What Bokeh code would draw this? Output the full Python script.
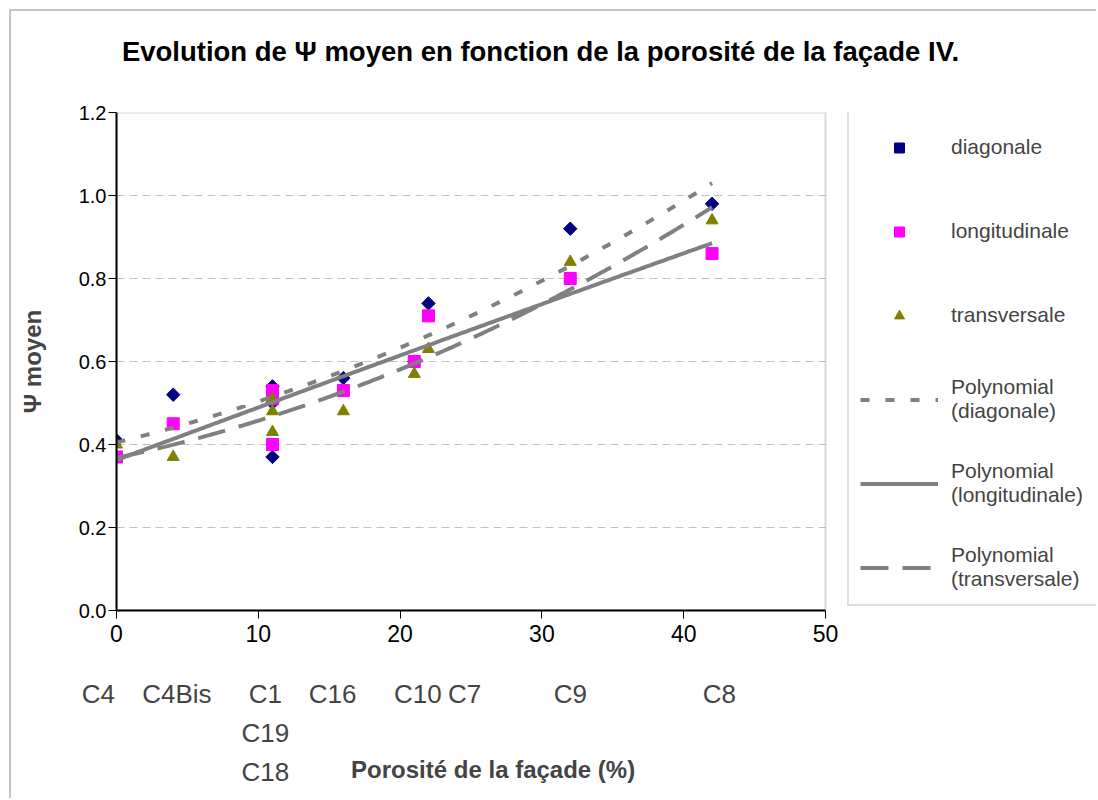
import numpy as np
from bokeh.plotting import figure
from bokeh.models import (Legend, LegendItem, Range1d, FixedTicker, LinearAxis,
                          PrintfTickFormatter, BoxAnnotation)
from bokeh.embed import file_html
from bokeh.resources import INLINE

# ---------------- data ----------------
porosity = [0, 4, 11, 11, 11, 16, 21, 22, 32, 42]
cases = ["C4", "C4Bis", "C1", "C19", "C18", "C16", "C10", "C7", "C9", "C8"]
diagonale = [0.41, 0.52, 0.54, 0.50, 0.37, 0.56, 0.60, 0.74, 0.92, 0.98]
longitudinale = [0.37, 0.45, 0.53, 0.51, 0.40, 0.53, 0.60, 0.71, 0.80, 0.86]
transversale = [0.40, 0.37, 0.48, 0.51, 0.43, 0.48, 0.57, 0.63, 0.84, 0.94]
x_ticks = [0, 10, 20, 30, 40, 50]
y_ticks = [0.0, 0.2, 0.4, 0.6, 0.8, 1.0, 1.2]
X_MAX, Y_MAX = 50, 1.2

title_text = "Evolution de Ψ moyen en fonction de la porosité de la façade IV."
x_title = "Porosité de la façade (%)"
y_title = "Ψ moyen"
series_names = ["diagonale", "longitudinale", "transversale"]

# ---------------- styles / layout ----------------
FONT = "Liberation Sans"
GRAY = "#808080"
NBSP = "\u00a0"
CASE_SIZE = 26
W, H = 1087, 789
LEFT, TOP, BOTTOM, RIGHT = 105, 101, 190, 2
PLOT_PX = 709                      # pixel width of the 0..50 plot area
FRAME_PX = W - LEFT - RIGHT        # frame also hosts the legend on its right
PX_PER_UNIT = PLOT_PX / X_MAX
x_end = FRAME_PX / PX_PER_UNIT
TITLE_CENTER_PX = 424              # title centre, px right of the y axis
XTITLE_SHIFT_PX = -115             # x-axis title shift from frame centre

case_dx = {"C4": -19, "C4Bis": 3, "C1": -7, "C19": -7, "C18": -7, "C16": -10,
           "C10": 4, "C7": 37, "C9": 0, "C8": 6}


def nudged(name, dx, size):
    n = int(round(abs(dx) * 2 / (0.278 * size)))
    return NBSP * n + name if dx > 0 else name + NBSP * n


p = figure(width=W, height=H, output_backend="svg", toolbar_location=None,
           x_range=Range1d(0, x_end), y_range=Range1d(0, Y_MAX),
           min_border_left=LEFT, min_border_right=RIGHT,
           min_border_top=TOP, min_border_bottom=BOTTOM)
p.margin = (9, 0, 0, 9)
p.styles = {"border-top": "2px solid #c4c4c4", "border-left": "2px solid #c4c4c4"}
p.outline_line_color = None
p.background_fill_color = "white"
p.border_fill_color = "white"

main_x = p.xaxis[0]
main_y = p.yaxis[0]

# axes
main_x.ticker = FixedTicker(ticks=x_ticks)
main_x.bounds = (0, X_MAX)
main_y.ticker = FixedTicker(ticks=y_ticks)
main_y.formatter = PrintfTickFormatter(format="%.1f")
for ax in (main_x, main_y):
    ax.axis_line_color = "black"
    ax.axis_line_width = 2
    ax.major_tick_line_color = "black"
    ax.major_tick_line_width = 1
    ax.major_tick_out = 8
    ax.major_tick_in = 0
    ax.minor_tick_line_color = None
    ax.major_label_text_font = FONT
    ax.major_label_text_color = "black"
main_x.major_label_text_font_size = "23px"
main_y.major_label_text_font_size = "20px"
main_x.major_label_standoff = 6
main_y.major_label_standoff = 2
main_y.axis_label = y_title
main_y.axis_label_text_font = FONT
main_y.axis_label_text_font_size = "24px"
main_y.axis_label_text_font_style = "bold"
main_y.axis_label_standoff = 30

# title (as a single labelled tick on an axis above the plot)
title_x = TITLE_CENTER_PX / PX_PER_UNIT
title_axis = LinearAxis(ticker=FixedTicker(ticks=[title_x]),
                        major_label_overrides={title_x: title_text})
title_axis.axis_line_color = None
title_axis.major_tick_line_color = None
title_axis.minor_tick_line_color = None
title_axis.major_tick_out = 0
title_axis.major_tick_in = 0
title_axis.major_label_standoff = 46
title_axis.major_label_text_font = FONT
title_axis.major_label_text_font_size = "27.5px"
title_axis.major_label_text_font_style = "bold"
title_axis.major_label_text_color = "black"
p.add_layout(title_axis, "above")

# case-name axis under the porosity axis
groups = {}
for name, xv in zip(cases, porosity):
    groups.setdefault(xv, []).append(nudged(name, case_dx[name], CASE_SIZE))
case_axis = LinearAxis(ticker=FixedTicker(ticks=sorted(groups)), bounds=(0, X_MAX),
                       major_label_overrides={k: "\n".join(v) for k, v in groups.items()})
case_axis.axis_line_color = None
case_axis.major_tick_line_color = None
case_axis.minor_tick_line_color = None
case_axis.major_label_text_font = FONT
case_axis.major_label_text_font_size = f"{CASE_SIZE}px"
case_axis.major_label_text_line_height = 1.3
case_axis.major_label_standoff = 28
case_axis.axis_label = nudged(x_title, XTITLE_SHIFT_PX, 24)
case_axis.axis_label_text_font = FONT
case_axis.axis_label_text_font_size = "24px"
case_axis.axis_label_text_font_style = "bold"
case_axis.axis_label_standoff = -34
p.add_layout(case_axis, "below")

p.xgrid.visible = False
p.ygrid.grid_line_color = "#c0c0c0"
p.ygrid.grid_line_dash = "8 5"
p.ygrid.grid_line_width = 1

# blank area right of the plot (legend zone) and plot-area border
p.add_layout(BoxAnnotation(left=X_MAX, fill_color="white", fill_alpha=1,
                           line_color=None, level="underlay"))
p.add_layout(BoxAnnotation(left=0, right=X_MAX, bottom=0, top=Y_MAX, fill_color=None,
                           line_color=GRAY, line_width=2, level="underlay"))

# markers
r_d = p.scatter(porosity, diagonale, marker="square", angle=np.pi / 4, size=9.5,
                fill_color="#000080", line_color="#000080")
r_l = p.scatter(porosity, longitudinale, marker="square", size=12,
                fill_color="#FF00FF", line_color="#FF00FF")
r_t = p.scatter(porosity, transversale, marker="triangle", size=12,
                fill_color="#808000", line_color="#808000")

# polynomial (order 2) trendlines
xs = np.linspace(min(porosity), max(porosity), 200)
dashes = ["9 16", "solid", "28 14"]
trend_renderers = []
for vals, dash in zip([diagonale, longitudinale, transversale], dashes):
    coef = np.polyfit(porosity, vals, 2)
    trend_renderers.append(p.line(xs, np.polyval(coef, xs), line_color=GRAY,
                                  line_width=4, line_dash=dash))

legend = Legend(items=[
    LegendItem(label=series_names[0], renderers=[r_d]),
    LegendItem(label=series_names[1], renderers=[r_l]),
    LegendItem(label=series_names[2], renderers=[r_t]),
    LegendItem(label="Polynomial\n(" + series_names[0] + ")", renderers=[trend_renderers[0]]),
    LegendItem(label="Polynomial\n(" + series_names[1] + ")", renderers=[trend_renderers[1]]),
    LegendItem(label="Polynomial\n(" + series_names[2] + ")", renderers=[trend_renderers[2]]),
], location=(731, 4))
legend.glyph_width = 78
legend.glyph_height = 25
legend.label_height = 52
legend.label_width = 142
legend.spacing = 32
legend.padding = 11
legend.margin = 0
legend.label_standoff = 13
legend.label_text_font = FONT
legend.label_text_font_size = "21px"
legend.label_text_line_height = 1.0
legend.border_line_color = "#c0c0c0"
legend.border_line_width = 2
legend.background_fill_color = "white"
legend.background_fill_alpha = 1
p.add_layout(legend)

open("out.html", "w").write(file_html(p, INLINE))
